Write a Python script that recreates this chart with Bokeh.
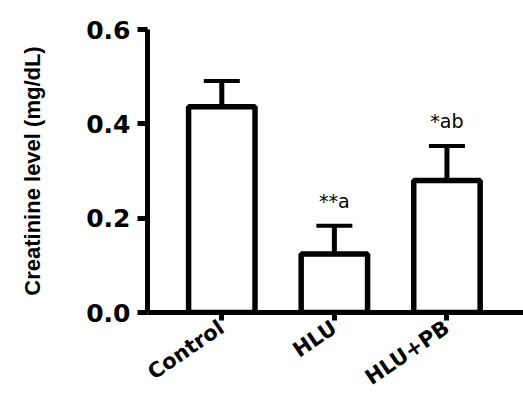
from bokeh.plotting import figure
from bokeh.models import ColumnDataSource, Range1d, FixedTicker, Whisker, TeeHead
from bokeh.embed import file_html
from bokeh.resources import INLINE
from bokeh.core.properties import value

categories = ["Control", "HLU", "HLU+PB"]
means = [0.436, 0.124, 0.280]
sems = [0.055, 0.060, 0.073]
annotations = ["", "**a", "*ab"]
y_ticks = [0.0, 0.2, 0.4, 0.6]
y_tick_labels = ["0.0", "0.2", "0.4", "0.6"]
y_label = "Creatinine level (mg/dL)"

xs = list(range(len(categories)))
upper = [m + s for m, s in zip(means, sems)]
src = ColumnDataSource(dict(x=xs, mean=means, upper=upper, ann=annotations))

p = figure(width=523, height=403, output_backend="svg", toolbar_location=None,
           x_range=Range1d(-0.66, 2.68), y_range=Range1d(0, 0.6),
           min_border_left=147, min_border_right=0, min_border_top=29, min_border_bottom=91)
p.outline_line_color = None
p.xgrid.visible = False
p.ygrid.visible = False
p.background_fill_color = "white"
p.border_fill_color = "white"

w = Whisker(source=src, base="x", lower="mean", upper="upper", dimension="height",
            line_color="black", line_width=5,
            upper_head=TeeHead(size=36, line_width=4, line_color="black"), lower_head=None)
p.add_layout(w)

p.vbar(x="x", top="mean", bottom=0, width=0.59, source=src,
       fill_color="white", line_color="black", line_width=5.5)

p.text(x="x", y="upper", text="ann", source=src, y_offset=-25,
       text_align="center", text_baseline="middle",
       text_font=value("DejaVu Sans"), text_font_size="19px", text_color="black")

# y axis
ya = p.yaxis[0]
ya.ticker = FixedTicker(ticks=y_ticks)
ya.major_label_overrides = {t: l for t, l in zip(y_ticks, y_tick_labels)}
ya.axis_line_width = 5
ya.axis_line_color = "black"
ya.major_tick_line_width = 5
ya.major_tick_line_color = "black"
ya.major_tick_out = 10
ya.major_tick_in = 0
ya.minor_tick_line_color = None
ya.major_label_text_font = "DejaVu Sans"
ya.major_label_text_font_style = "bold"
ya.major_label_text_font_size = "25px"
ya.major_label_text_color = "black"
ya.major_label_standoff = 7
ya.axis_label = y_label
ya.axis_label_text_font = "Liberation Sans"
ya.axis_label_text_font_style = "bold"
ya.axis_label_text_font_size = "22px"
ya.axis_label_text_color = "black"
ya.axis_label_standoff = 38

# x axis
xa = p.xaxis[0]
xa.ticker = FixedTicker(ticks=xs)
xa.major_label_overrides = {i: c for i, c in zip(xs, categories)}
xa.axis_line_width = 5
xa.axis_line_color = "black"
xa.major_tick_line_width = 5
xa.major_tick_line_color = "black"
xa.major_tick_out = 8
xa.major_tick_in = 0
xa.minor_tick_line_color = None
xa.major_label_orientation = 0.6
xa.major_label_text_font = "DejaVu Sans"
xa.major_label_text_font_style = "bold"
xa.major_label_text_font_size = "21px"
xa.major_label_text_color = "black"
xa.major_label_standoff = 5

open("out.html", "w").write(file_html(p, INLINE))
